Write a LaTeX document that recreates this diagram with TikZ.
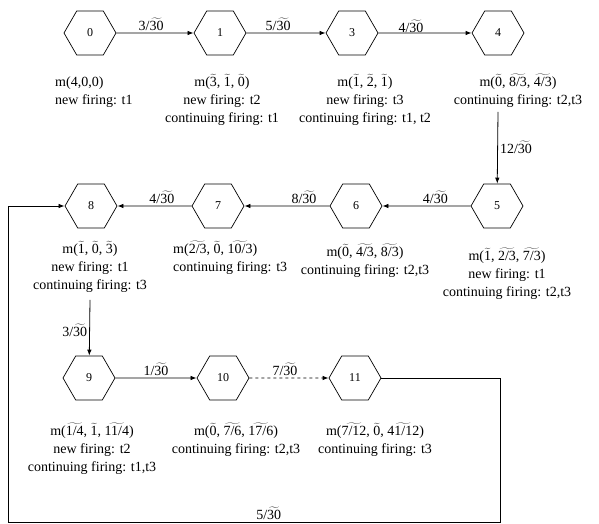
\documentclass[tikz,border=0pt]{standalone}
\usepackage{fontspec}
\setmainfont{Liberation Serif}
\usetikzlibrary{shapes.symbols, arrows.meta, positioning}
\newcommand{\fz}[1]{$\widetilde{\mbox{#1}}$}

\begin{document}
\begin{tikzpicture}[x=1pt, y=1pt,
            st/.style={signal, signal to=west and east, signal pointer angle=120, draw=black, line width=0.7pt,
                       minimum width=52pt, minimum height=44pt, inner sep=0pt, font=\fontsize{12}{14}\selectfont},
            mk/.style={anchor=north, align=center, inner sep=0pt, font=\fontsize{14}{18}\selectfont},
            ed/.style={draw=black, line width=0.8pt, -{Latex[length=6pt, width=4.5pt]}},
            wt/.style={font=\fontsize{14}{18}\selectfont, inner sep=2pt}]
            \useasboundingbox (0,0) rectangle (599,524);
            % states
            \node[st] (0)  at (90,491)  {0};
            \node[st] (1)  at (220,491) {1};
            \node[st] (3)  at (352,491) {3};
            \node[st] (4)  at (498,491) {4};
            \node[st] (5)  at (497,318) {5};
            \node[st] (6)  at (356,318) {6};
            \node[st] (7)  at (218,318) {7};
            \node[st] (8)  at (91,318)  {8};
            \node[st] (9)  at (89,146)  {9};
            \node[st] (10) at (223,146) {10};
            \node[st] (11) at (355,146) {11};
            % markings
            \node[mk, anchor=north west, align=left] (m0) at (55,450) {\strut m(4,0,0)\\new firing: t1};
            \node[mk] (m1) at (222,450) {\strut m(\fz{3}, \fz{1}, \fz{0})\\new firing: t2\\continuing firing: t1};
            \node[mk] (m3) at (365,450) {\strut m(\fz{1}, \fz{2}, \fz{1})\\new firing: t3\\continuing firing: t1, t2};
            \node[mk] (m4) at (518,450) {\strut m(\fz{0}, \fz{8/3}, \fz{4/3})\\continuing firing: t2,t3};
            \node[mk] (m5) at (507,276) {\strut m(\fz{1}, \fz{2/3}, \fz{7/3})\\new firing: t1\\continuing firing: t2,t3};
            \node[mk] (m6) at (365,280) {\strut m(\fz{0}, \fz{4/3}, \fz{8/3})\\continuing firing: t2,t3};
            \node[mk, anchor=north west, align=left] (m7) at (173,283) {\strut m(\fz{2/3}, \fz{0}, \fz{10/3})\\continuing firing: t3};
            \node[mk] (m8) at (90,283)  {\strut m(\fz{1}, \fz{0}, \fz{3})\\new firing: t1\\continuing firing: t3};
            \node[mk] (m9) at (92,101)  {\strut m(\fz{1/4}, \fz{1}, \fz{11/4})\\new firing: t2\\continuing firing: t1,t3};
            \node[mk] (m10) at (236,101) {\strut m(\fz{0}, \fz{7/6}, \fz{17/6})\\continuing firing: t2,t3};
            \node[mk] (m11) at (375,101) {\strut m(\fz{7/12}, \fz{0}, \fz{41/12})\\continuing firing: t3};
            % free ends
            \coordinate (c45) at (498,412);
            \coordinate (c89) at (90,224);
            \coordinate (cr) at (500,2);
            \coordinate (cl) at (8,2);
            % transitions
            \draw[ed] (0) -- node[wt, above, pos=0.45] {3/\fz{30}} (1);
            \draw[ed] (1) -- node[wt, above, pos=0.4] {5/\fz{30}} (3);
            \draw[ed] (3) -- node[wt, above, pos=0.35, inner sep=0pt] {4/\fz{30}} (4);
            \draw[ed] (c45) -- node[wt, right, pos=0.5] {12/\fz{30}} (5);
            \draw[ed] (5) -- node[wt, above, pos=0.4] {4/\fz{30}} (6);
            \draw[ed] (6) -- node[wt, above, pos=0.3] {8/\fz{30}} (7);
            \draw[ed] (7) -- node[wt, above, pos=0.4] {4/\fz{30}} (8);
            \draw[ed] (c89) -- node[wt, left, pos=0.55] {3/\fz{30}} (9);
            \draw[ed] (9) -- node[wt, above, pos=0.5] {1/\fz{30}} (10);
            \draw[ed, dashed] (10) -- node[wt, above, pos=0.45] {7/\fz{30}} (11);
            \draw[ed] (11) -| (cr) -- node[wt, above, pos=0.47] {5/\fz{30}} (cl) |- (8);
\end{tikzpicture}
\end{document}
